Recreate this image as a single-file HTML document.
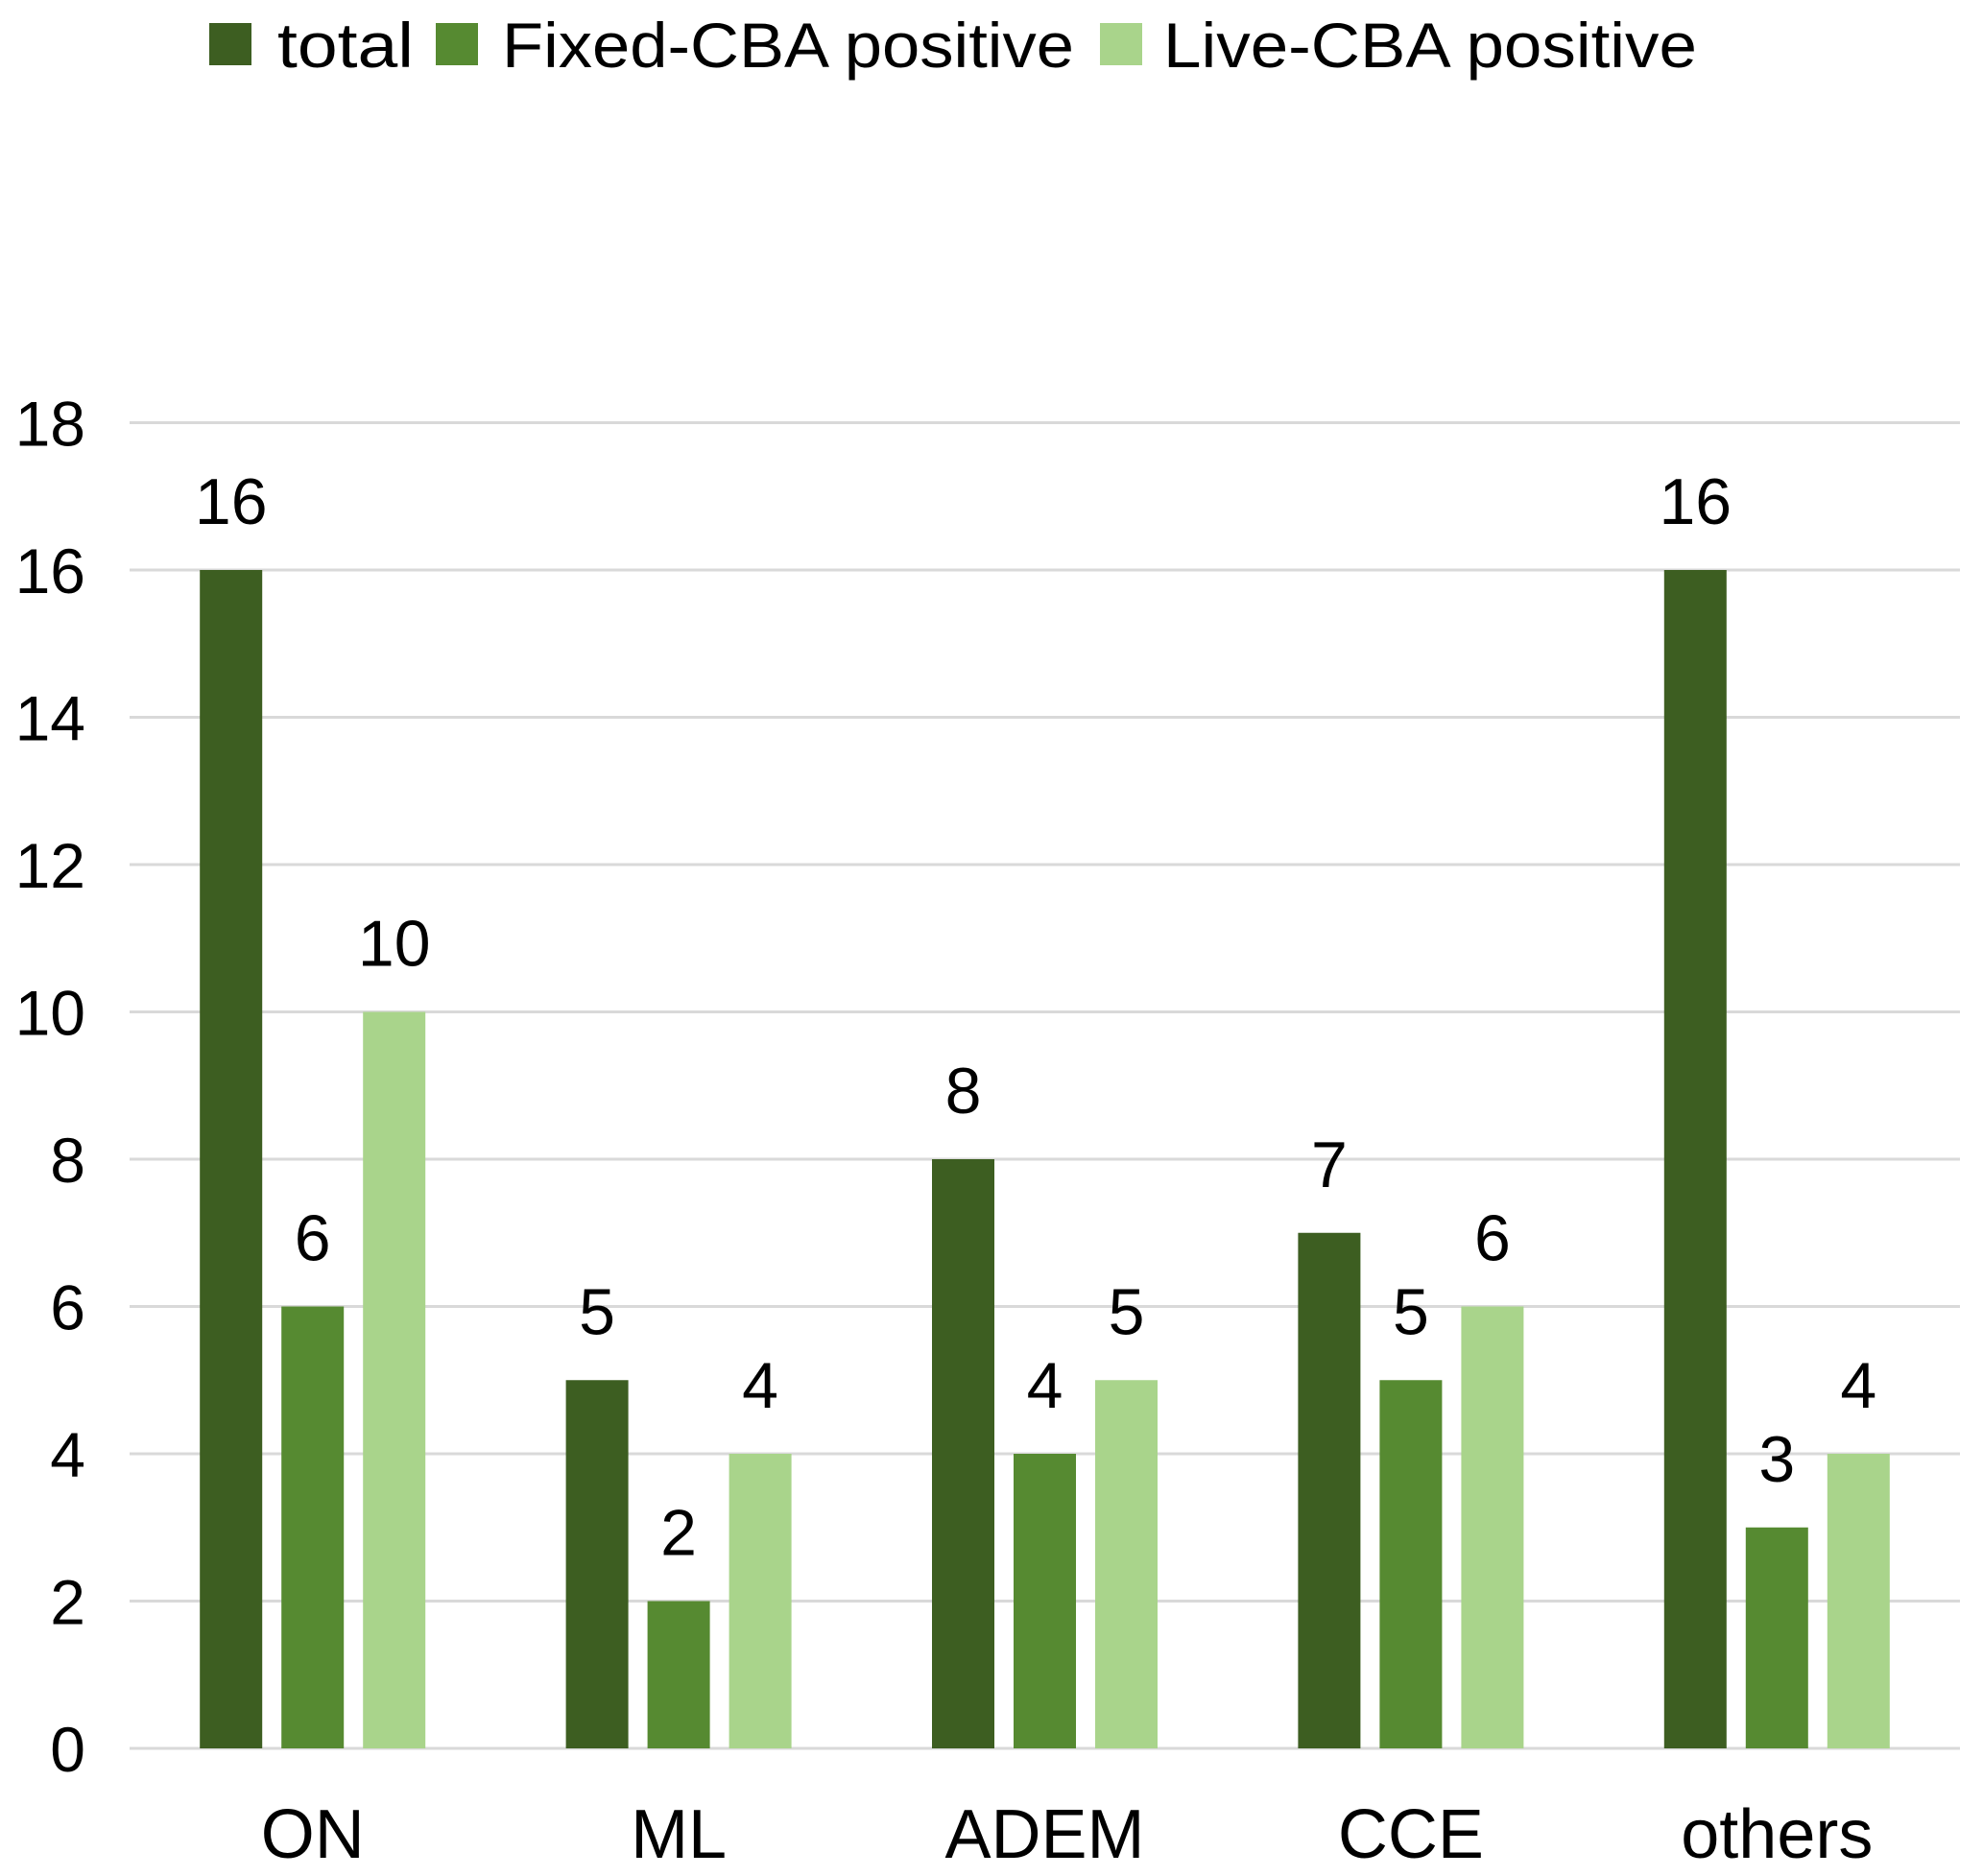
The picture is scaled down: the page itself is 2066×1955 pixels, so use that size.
<!DOCTYPE html>
<html><head><meta charset="utf-8"><style>
html,body{margin:0;padding:0;background:#fff;}
svg{display:block;font-family:"Liberation Sans","DejaVu Sans",sans-serif;}
</style></head><body>
<svg id="chart" width="2066" height="1955" viewBox="0 0 2066 1955" xmlns="http://www.w3.org/2000/svg">
<g id="legend"></g>
<g id="grid"></g>
<g id="yticks"></g>
<g id="bars"></g>
<g id="labels"></g>
<g id="xticks"></g>
</svg>
<script>
const categories = ["ON","ML","ADEM","CCE","others"];
const seriesNames = ["total","Fixed-CBA positive","Live-CBA positive"];
const totalValues = [16,5,8,7,16];
const fixedValues = [6,2,4,5,3];
const liveValues = [10,4,5,6,4];
const yTicks = [0,2,4,6,8,10,12,14,16,18];

const colors = ["#3d5e21","#568a31","#a9d48b"];
const series = [totalValues, fixedValues, liveValues];
const NS = "http://www.w3.org/2000/svg";
const plotLeft = 135, plotRight = 2042;
const y0 = 1822, unit = 76.75;
const catW = (plotRight - plotLeft) / categories.length;
const barW = 65, barStep = 85;
function yScale(v){ return y0 - v * unit; }
function xCenter(i){ return plotLeft + catW * (i + 0.5); }
function mk(tag, attrs, parent){ const e=document.createElementNS(NS,tag); for(const k in attrs) e.setAttribute(k,attrs[k]); parent.appendChild(e); return e; }

const grid = document.getElementById('grid');
const yt = document.getElementById('yticks');
yTicks.forEach(t=>{
  const l = mk('line',{x1:plotLeft,x2:plotRight,y1:yScale(t),y2:yScale(t),stroke:'#d9d9d9','stroke-width':3},grid);
  
  
  const tx = mk('text',{x:89,y:yScale(t)+24,'text-anchor':'end','font-size':66,fill:'#000'},yt);
  tx.textContent = t;
  
  
});

const bars = document.getElementById('bars');
const labels = document.getElementById('labels');
const xt = document.getElementById('xticks');
categories.forEach((c,i)=>{
  const cx = xCenter(i);
  series.forEach((vals,s)=>{
    const bx = cx + (s-1)*barStep - barW/2;
    const r = mk('rect',{x:bx,y:yScale(vals[i]),width:barW,height:y0-yScale(vals[i]),fill:colors[s]},bars);
    
    
    const lt = mk('text',{x:bx+barW/2,y:yScale(vals[i])-48,'text-anchor':'middle','font-size':68,fill:'#000'},labels);
    lt.textContent = vals[i];
    
    
  });
  const ct = mk('text',{x:cx,y:1936,'text-anchor':'middle','font-size':72,fill:'#000'},xt);
  ct.textContent = c;
  
  
});

const legend = document.getElementById('legend');
const legSq = [218,454,1146];
const legTx = [289,523,1212];
const legW = [142,596,556];
seriesNames.forEach((n,s)=>{
  const sq = mk('rect',{x:legSq[s],y:24,width:44,height:44,fill:colors[s]},legend);
  
  
  const t = mk('text',{x:legTx[s],y:70,'font-size':66,fill:'#000',textLength:legW[s],lengthAdjust:'spacingAndGlyphs'},legend);
  t.textContent = n;
  
  
});
</script>
</body></html>
